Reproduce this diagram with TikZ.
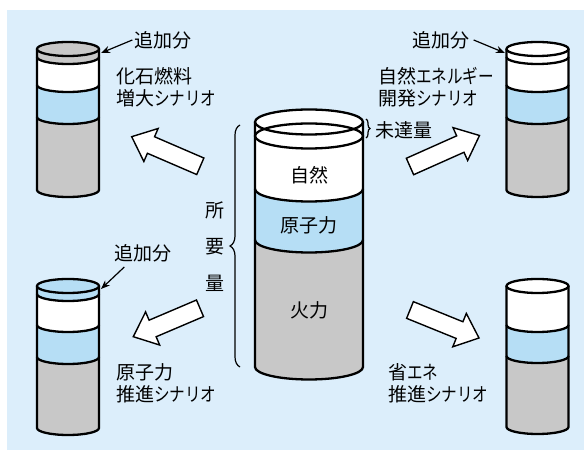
\documentclass[tikz,border=0pt]{standalone}
\usepackage{fontspec}
\setmainfont{Noto Sans CJK JP}
\newfontfamily\kanafont{Noto Sans CJK JP}[FakeStretch=0.82]
\newcommand\kn[1]{{\kanafont #1}}
\usetikzlibrary{decorations.pathreplacing,arrows.meta,calc}
\definecolor{bgblue}{RGB}{220,238,251}
\definecolor{lblue}{RGB}{182,222,245}
\definecolor{lgray}{RGB}{200,200,200}
% band between front arcs: cx, rx, ry, top, bottom, colour
\newcommand\cylfill[6]{\fill[#6] (#1-#2,#4) arc[start angle=180,end angle=360,x radius=#2,y radius=#3] -- (#1+#2,#5) arc[start angle=360,end angle=180,x radius=#2,y radius=#3] -- cycle;}
\newcommand\cylarc[4]{\draw[cyl] (#1-#2,#4) arc[start angle=180,end angle=360,x radius=#2,y radius=#3];}
\newcommand\cyltop[5]{\fill[#5] (#1,#4) ellipse[x radius=#2,y radius=#3];\draw[cyl] (#1,#4) ellipse[x radius=#2,y radius=#3];}
\newcommand\cylbody[5]{\draw[cyl] (#1-#2,#4) -- (#1-#2,#5) arc[start angle=180,end angle=360,x radius=#2,y radius=#3] -- (#1+#2,#4);}
\newcommand\barrow[3]{\coordinate (#3) at ($(#2)!21pt!(#1)$);
 \draw[blockar] ($(#1)!9pt!90:(#2)$) -- ($(#3)!9pt!90:(#2)$) -- ($(#3)!18pt!90:(#2)$) -- (#2) -- ($(#3)!18pt!-90:(#2)$) -- ($(#3)!9pt!-90:(#2)$) -- ($(#1)!9pt!-90:(#2)$) -- cycle;}
\tikzset{
  cyl/.style={line width=2.3pt,line join=round},
  blockar/.style={draw=black,fill=white,line width=1.4pt,line join=miter},
  lab/.style={font=\fontsize{19}{22}\selectfont,inner sep=0pt},
  txt/.style={lab,align=left,anchor=west},
  thinar/.style={line width=1.2pt,-{Stealth[length=9pt,width=7pt]}},
  brc/.style={line width=1.2pt,decorate},
}
\begin{document}
\begin{tikzpicture}[x=1pt,y=1pt]
\useasboundingbox (0,0) rectangle (584,450);
\fill[bgblue] (7,0) rectangle (584,440);

% ---- central cylinder
\cylfill{309}{54}{12.5}{328}{83}{white}
\fill[white] (309,328) ellipse[x radius=54,y radius=12.5];
\cylfill{309}{54}{12.5}{261}{210}{lblue}
\cylfill{309}{54}{12.5}{210}{83}{lgray}
\cylbody{309}{54}{12.5}{328}{83}
\draw[cyl] (309,328) ellipse[x radius=54,y radius=12.5];
\draw[cyl] (309,314) ellipse[x radius=54,y radius=12.5];
\cylarc{309}{54}{12.5}{261}
\cylarc{309}{54}{12.5}{210}
\node[lab] (nat) at (309,275) {自然};
\node[lab] (nuc) at (309,225) {原子力};
\node[lab] (fir) at (309,140) {火力};

% braces
\coordinate (bb) at (240,83);
\coordinate (bt) at (240,325);
\draw[brc,decoration={brace,amplitude=10pt}] (bb) -- (bt);
\node[lab] (s1) at (215,240) {所};
\node[lab] (s2) at (215,203) {要};
\node[lab] (s3) at (215,167) {量};
\coordinate (ub1) at (366,331);
\coordinate (ub2) at (366,312);
\draw[brc,decoration={brace,amplitude=4pt}] (ub1) -- (ub2);
\node[txt] (mt) at (375,320) {未達量};

% ---- top-left cylinder (fossil)
\cylfill{68}{31}{7}{401}{393}{lgray}
\cylfill{68}{31}{7}{393}{365}{white}
\cylfill{68}{31}{7}{365}{333}{lblue}
\cylfill{68}{31}{7}{333}{260}{lgray}
\cylbody{68}{31}{7}{401}{260}
\cyltop{68}{31}{7}{401}{lgray}
\cylarc{68}{31}{7}{393}
\cylarc{68}{31}{7}{365}
\cylarc{68}{31}{7}{333}

% ---- top-right cylinder (renewable)
\cylfill{537.5}{31}{7}{401}{365}{white}
\cylfill{537.5}{31}{7}{365}{333}{lblue}
\cylfill{537.5}{31}{7}{333}{260}{lgray}
\cylbody{537.5}{31}{7}{401}{260}
\cyltop{537.5}{31}{7}{401}{white}
\cylarc{537.5}{31}{7}{393}
\cylarc{537.5}{31}{7}{365}
\cylarc{537.5}{31}{7}{333}

% ---- bottom-left cylinder (nuclear)
\cylfill{68}{31}{7}{164}{156}{lblue}
\cylfill{68}{31}{7}{156}{125}{white}
\cylfill{68}{31}{7}{125}{93}{lblue}
\cylfill{68}{31}{7}{93}{22}{lgray}
\cylbody{68}{31}{7}{164}{22}
\cyltop{68}{31}{7}{164}{lblue}
\cylarc{68}{31}{7}{156}
\cylarc{68}{31}{7}{125}
\cylarc{68}{31}{7}{93}

% ---- bottom-right cylinder (saving)
\cylfill{537.5}{31}{7}{164}{125}{white}
\cylfill{537.5}{31}{7}{125}{94}{lblue}
\cylfill{537.5}{31}{7}{94}{23}{lgray}
\cylbody{537.5}{31}{7}{164}{23}
\cyltop{537.5}{31}{7}{164}{white}
\cylarc{537.5}{31}{7}{125}
\cylarc{537.5}{31}{7}{94}

% ---- labels
\node[txt] (l1) at (116,362.5) {化石燃料\\増大\kn{シナリオ}};
\node[txt] (l2) at (378,362.5) {自然\kn{エネルギー}\\開発\kn{シナリオ}};
\node[txt] (l3) at (116,66.5) {原子力\\推進\kn{シナリオ}};
\node[txt] (l4) at (388,66.5) {省\kn{エネ}\\推進\kn{シナリオ}};

% ---- 追加分 notes
\node[lab] (z1) at (163,410) {追加分};
\coordinate (r1) at (101,397);
\draw[thinar] ([xshift=-2pt]z1.west) -- (r1);
\node[lab] (z2) at (441,410) {追加分};
\coordinate (r2) at (505,397);
\draw[thinar] ([xshift=4pt]z2.east) -- (r2);
\node[lab] (z3) at (143,197) {追加分};
\coordinate (r3) at (101,161);
\draw[thinar] ($(z3.south west)+(10,-5)$) -- (r3);

% ---- block arrows
\coordinate (t1) at (200.3,283.7); \coordinate (p1) at (131.7,313.3);
\coordinate (t2) at (410,283.5);   \coordinate (p2) at (479.5,314.5);
\coordinate (t3) at (200,141.7);   \coordinate (p3) at (133.3,113.3);
\coordinate (t4) at (410,140);     \coordinate (p4) at (479,112);
\barrow{t1}{p1}{h1}
\barrow{t2}{p2}{h2}
\barrow{t3}{p3}{h3}
\barrow{t4}{p4}{h4}
\end{tikzpicture}
\end{document}
